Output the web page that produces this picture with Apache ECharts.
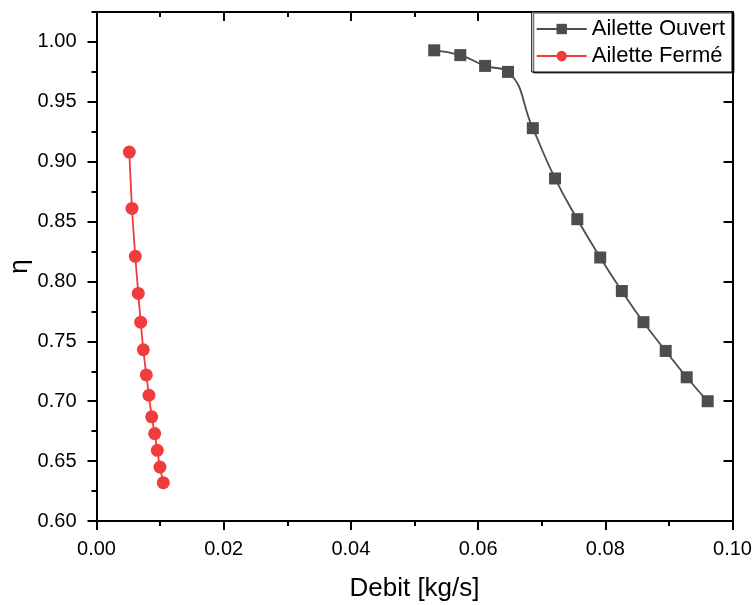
<!DOCTYPE html>
<html>
<head>
<meta charset="utf-8">
<title>Debit / η</title>
<script src="https://cdn.jsdelivr.net/npm/echarts@6/dist/echarts.min.js"></script>
<style>
  html, body { margin: 0; padding: 0; background: #fff; }
  #chart { width: 755px; height: 605px; }
</style>
</head>
<body>
<div id="chart"></div>
<script>
// Ailette ouverte: débit [kg/s] et rendement η
const ouvertDebit = [0.0531, 0.0572, 0.0611, 0.0647, 0.0686, 0.0721, 0.0756, 0.0792, 0.0826, 0.0860, 0.0895, 0.0928, 0.0961];
const ouvertEta   = [0.993, 0.989, 0.980, 0.975, 0.928, 0.886, 0.852, 0.820, 0.792, 0.766, 0.742, 0.720, 0.700];

// Ailette fermée
const fermeDebit = [0.00516, 0.00558, 0.00610, 0.00657, 0.00695, 0.00736, 0.00783, 0.00825, 0.00868, 0.00915, 0.00956, 0.00998, 0.01050];
const fermeEta   = [0.908, 0.861, 0.821, 0.790, 0.766, 0.743, 0.722, 0.705, 0.687, 0.673, 0.659, 0.645, 0.632];

// Graduations
const xMajorTicks = [0.00, 0.02, 0.04, 0.06, 0.08, 0.10];
const yMajorTicks = [0.60, 0.65, 0.70, 0.75, 0.80, 0.85, 0.90, 0.95, 1.00];

const X_MIN = 0, X_MAX = 0.10, Y_MIN = 0.60, Y_MAX = 1.025;
const FONT = '"Liberation Sans", Arial, Helvetica, sans-serif';
const INK = '#000';
const GRAY = '#4d4d4d';
const RED = '#f03c3c';

// Both grids share the same rectangle; the second one only carries minor ticks
const gridBox = { left: 96.5, right: 22.5, top: 12, bottom: 84, containLabel: false, outerBoundsMode: 'none' };

function majorX(position, extra) {
  return Object.assign({
    type: 'value', gridIndex: 0, position: position,
    min: X_MIN, max: X_MAX,
    axisLine: { show: true, onZero: false, lineStyle: { color: INK, width: 2 } },
    axisTick: { show: true, inside: position === 'top', length: 9, lineStyle: { color: INK, width: 2 }, customValues: xMajorTicks },
    axisLabel: { show: false },
    splitLine: { show: false }
  }, extra || {});
}
function minorX(position) {
  return {
    type: 'value', gridIndex: 1, position: position,
    min: X_MIN, max: X_MAX, interval: 0.01,
    axisLine: { show: false },
    axisTick: { show: true, inside: position === 'top', length: 5, lineStyle: { color: INK, width: 2 } },
    axisLabel: { show: false },
    splitLine: { show: false }
  };
}
function majorY(position, extra) {
  return Object.assign({
    type: 'value', gridIndex: 0, position: position,
    min: Y_MIN, max: Y_MAX,
    axisLine: { show: true, onZero: false, lineStyle: { color: INK, width: 2 } },
    axisTick: { show: true, inside: position === 'right', length: 9, lineStyle: { color: INK, width: 2 }, customValues: yMajorTicks },
    axisLabel: { show: false },
    splitLine: { show: false }
  }, extra || {});
}
function minorY(position) {
  return {
    type: 'value', gridIndex: 1, position: position,
    min: Y_MIN, max: Y_MAX, interval: 0.025,
    axisLine: { show: false },
    axisTick: { show: true, inside: position === 'right', length: 5, lineStyle: { color: INK, width: 2 } },
    axisLabel: { show: false },
    splitLine: { show: false }
  };
}

const chart = echarts.init(document.getElementById('chart'), null, { renderer: 'canvas' });

chart.setOption({
  animation: false,
  backgroundColor: '#fff',
  textStyle: { fontFamily: FONT },
  grid: [Object.assign({}, gridBox), Object.assign({}, gridBox)],
  xAxis: [
    majorX('bottom', {
      axisLabel: {
        show: true, customValues: xMajorTicks, margin: 18,
        fontSize: 20, color: INK, fontFamily: FONT,
        formatter: v => v.toFixed(2)
      },
      name: 'Debit [kg/s]', nameLocation: 'middle', nameGap: 55, nameMoveOverlap: false,
      nameTextStyle: { fontSize: 26, color: INK, fontFamily: FONT }
    }),
    majorX('top'),
    minorX('bottom'),
    minorX('top')
  ],
  yAxis: [
    majorY('left', {
      axisLabel: {
        show: true, customValues: yMajorTicks, margin: 20,
        fontSize: 20, color: INK, fontFamily: FONT,
        formatter: v => v.toFixed(2)
      },
      name: 'η', nameLocation: 'middle', nameGap: 64, nameMoveOverlap: false,
      nameTextStyle: { fontSize: 26, color: INK, fontFamily: FONT }
    }),
    majorY('right'),
    minorY('left'),
    minorY('right')
  ],
  legend: {
    orient: 'vertical',
    right: 23, top: 12,
    padding: [6, 7, 5, 4],
    itemGap: 5,
    itemWidth: 50, itemHeight: 13,
    backgroundColor: '#fff',
    borderColor: INK, borderWidth: 1, borderRadius: 0,
    shadowColor: 'rgba(0,0,0,0.7)', shadowOffsetX: 2, shadowOffsetY: 1, shadowBlur: 0,
    textStyle: { fontSize: 22, lineHeight: 22, color: INK, fontFamily: FONT },
    data: ['Ailette Ouvert', 'Ailette Fermé']
  },
  series: [
    {
      name: 'Ailette Ouvert', type: 'line', xAxisIndex: 0, yAxisIndex: 0,
      data: ouvertDebit.map((x, i) => [x, ouvertEta[i]]),
      smooth: 0.5,
      symbol: 'rect', symbolSize: 12,
      color: GRAY,
      lineStyle: { color: GRAY, width: 1.8 },
      itemStyle: { color: GRAY }
    },
    {
      name: 'Ailette Fermé', type: 'line', xAxisIndex: 0, yAxisIndex: 0,
      data: fermeDebit.map((x, i) => [x, fermeEta[i]]),
      smooth: 0.3,
      symbol: 'circle', symbolSize: 13,
      color: RED,
      lineStyle: { color: RED, width: 1.8 },
      itemStyle: { color: RED }
    }
  ]
});
</script>
</body>
</html>
